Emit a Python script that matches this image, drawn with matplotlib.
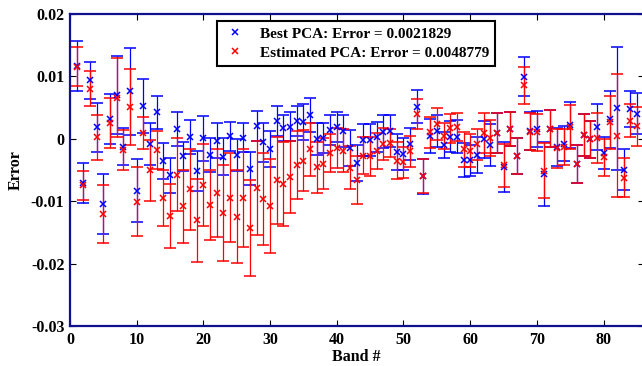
import numpy as np
import matplotlib.pyplot as plt
from matplotlib.lines import Line2D

# values are read in units of 1e-3
bands = np.arange(1, 86)

best_mean = [11.67, -7.08, 9.37, 1.88, -10.45, 3.17, 7.02, -1.26, 7.61, -8.31,
             5.26, -0.83, 4.24, -3.5, -5.87, 1.62, -2.81, 0.29, -5.21, 0.07,
             -2.65, -0.3, -2.86, 0.4, -2.6, 0.18, -4.78, 2.0, -0.57, -1.64,
             2.9, 1.73, 1.94, 2.9, 2.64, 3.81, 0.02, 0.13, 1.47, 1.94,
             1.3, -1.52, -3.93, -0.19, -0.19, 0.29, 1.14, 1.25, -2.06, -2.49,
             -0.83, 5.15, -6.0, 0.45, 1.25, -0.99, 0.34, 0.34, -3.45, -3.45,
             -2.65, -0.08, -0.94, 0.93, -4.56, 1.57, -2.75, 9.95, 1.25, 1.57,
             -5.64, 1.62, -1.31, -0.78, 2.21, -4.03, 0.61, -0.08, 1.89, -2.27,
             3.12, 4.88, -4.94, 4.78, 4.03]
best_err = [3.93, 3.18, 2.99, 3.93, 4.86, 4.03, 6.22, 2.96, 7.0, 5.1,
            4.38, 3.42, 2.62, 2.88, 2.75, 2.75, 2.32, 2.78, 3.2, 3.58,
            2.72, 2.8, 2.96, 2.32, 2.6, 2.32, 2.67, 2.4, 3.12, 2.9,
            2.43, 2.14, 2.3, 2.43, 2.9, 2.72, 2.56, 2.46, 2.4, 2.38,
            2.56, 2.9, 2.86, 2.54, 2.56, 2.46, 2.67, 2.5, 2.86, 2.56,
            2.56, 2.64, 2.78, 2.8, 2.5, 2.15, 2.48, 2.6, 2.72, 2.5,
            2.86, 3.0, 3.34, 3.2, 3.98, 2.7, 2.86, 3.13, 3.07, 2.9,
            5.1, 2.96, 3.0, 2.8, 3.7, 3.1, 3.34, 2.96, 3.66, 2.6,
            4.62, 9.9, 3.34, 2.94, 3.34]

est_mean = [11.55, -7.45, 8.04, 0.24, -12.05, 2.48, 6.59, -1.74, 5.1, -10.07,
            0.93, -5.05, -1.74, -9.48, -12.33, -5.75, -10.84, -8.09, -13.08, -7.45,
            -10.55, -8.67, -11.85, -9.43, -12.47, -9.48, -14.3, -7.93, -9.7, -10.77,
            -6.65, -7.24, -6.17, -4.19, -3.5, -1.64, -4.56, -3.97, -2.22, -1.52,
            -1.9, -4.62, -6.6, -2.7, -2.81, -1.9, -0.83, -0.72, -3.5, -3.77,
            -2.0, 4.03, -5.95, 1.04, 2.37, 0.45, 1.68, 1.89, -1.69, -1.9,
            -0.89, 0.88, 0.18, 0.93, -4.24, 1.57, -2.75, 8.57, 1.14, 1.04,
            -5.1, 1.62, -1.52, -1.31, 1.89, -4.03, 0.61, -0.08, 0.18, -2.97,
            2.64, 0.5, -6.22, 2.9, 1.99]
est_err = [3.13, 2.32, 2.78, 3.6, 4.67, 4.0, 6.3, 3.18, 6.06, 5.53,
           2.56, 4.86, 3.05, 4.43, 5.13, 5.82, 5.9, 6.46, 6.62, 6.54,
           5.6, 7.08, 7.7, 7.16, 7.45, 7.9, 7.64, 7.56, 7.35, 7.6,
           7.0, 6.7, 5.77, 5.42, 4.9, 4.25, 4.06, 4.14, 3.05, 3.18,
           3.4, 3.42, 3.87, 3.02, 3.15, 2.86, 2.54, 2.24, 2.94, 2.51,
           2.46, 2.4, 2.78, 2.46, 2.54, 2.1, 2.32, 2.32, 2.8, 2.6,
           2.43, 3.23, 2.86, 3.2, 3.47, 2.7, 2.86, 2.94, 3.0, 3.0,
           4.46, 2.96, 3.15, 2.9, 3.6, 3.1, 3.34, 3.0, 4.0, 3.0,
           4.27, 9.83, 3.18, 2.67, 3.1]

best_label = "Best PCA: Error = 0.0021829"
est_label = "Estimated PCA: Error = 0.0048779"

scale = 1e-3
best_mean = np.array(best_mean) * scale
best_err = np.array(best_err) * scale
est_mean = np.array(est_mean) * scale
est_err = np.array(est_err) * scale

plt.rcParams['font.family'] = ['Liberation Serif', 'DejaVu Serif']
plt.rcParams['font.weight'] = 'bold'

fig = plt.figure(figsize=(6.42, 3.66), dpi=100)
ax = fig.add_axes([70 / 642, 40 / 366, 573.6 / 642, 312 / 366])

kw = dict(fmt='x', markersize=3.8, markeredgewidth=1.1, elinewidth=0.9,
          capsize=4, capthick=0.9, linestyle='none')
ax.errorbar(bands, best_mean, yerr=best_err, color='#0000ff', **kw)
ax.errorbar(bands, est_mean, yerr=est_err, color='#ff0000', **kw)

ax.set_xlim(0, 86)
ax.set_ylim(-0.03, 0.02)
ax.set_xticks(np.arange(0, 81, 10))
ax.set_yticks(np.arange(-0.03, 0.021, 0.01))
ax.set_yticklabels(["-0.03", "-0.02", "-0.01", "0", "0.01", "0.02"])
ax.tick_params(direction='in', length=4, width=0.8, top=True, right=True,
               labelsize=11.5, pad=4)
for lab in ax.get_xticklabels() + ax.get_yticklabels():
    lab.set_fontweight('bold')
for sp in ax.spines.values():
    sp.set_color('#10108a')
    sp.set_linewidth(1.6)

ax.set_xlabel("Band #", fontsize=11.5, fontweight='bold', labelpad=1)
ax.set_ylabel("Error", fontsize=11.5, fontweight='bold', labelpad=5)

handles = [Line2D([], [], marker='x', color='#0000ff', linestyle='none',
                  markersize=3.8, markeredgewidth=1.1),
           Line2D([], [], marker='x', color='#ff0000', linestyle='none',
                  markersize=3.8, markeredgewidth=1.1)]
leg = ax.legend(handles, [best_label, est_label], loc='upper left',
                bbox_to_anchor=(0.256, 0.978), borderaxespad=0,
                fancybox=False, framealpha=1, edgecolor='black',
                prop={'size': 11, 'weight': 'bold'}, handlelength=1.6,
                handletextpad=0.8, labelspacing=0.35, borderpad=0.4)
leg.get_frame().set_linewidth(1.5)

fig.savefig("out.png", dpi=100)
